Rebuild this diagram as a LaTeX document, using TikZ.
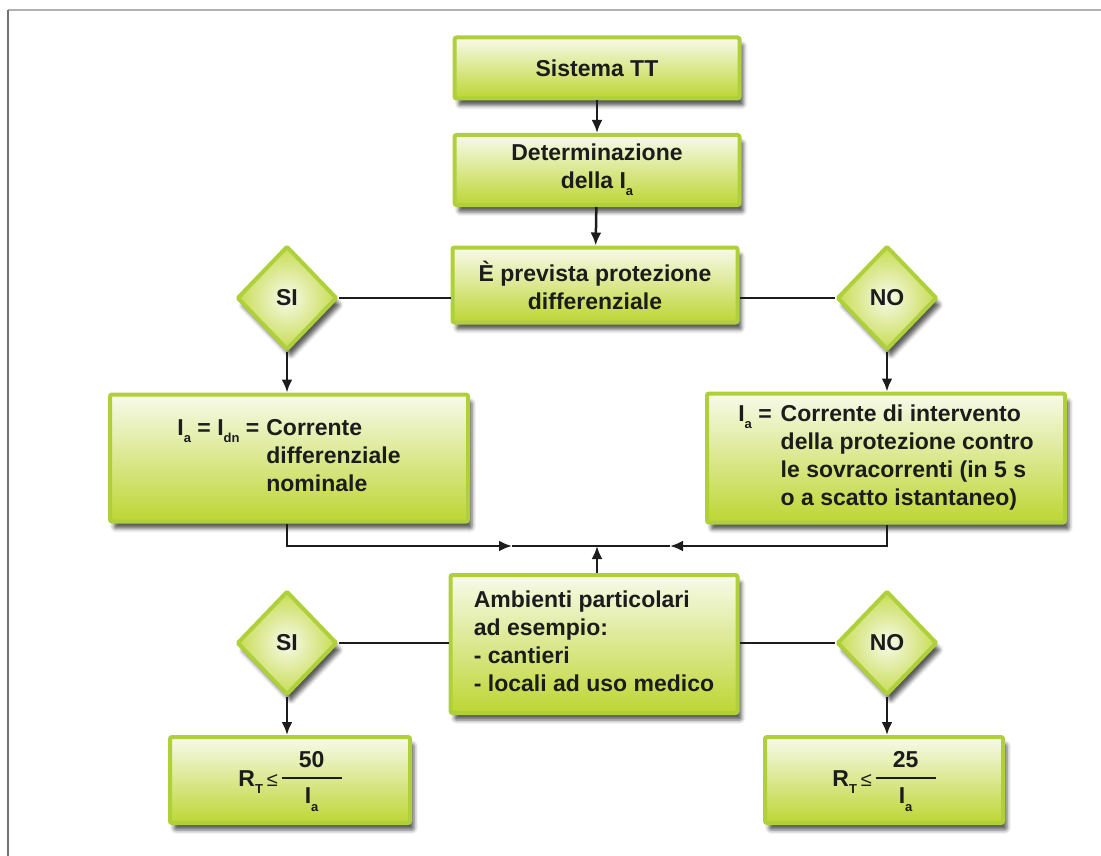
\documentclass[tikz,border=0pt]{standalone}
\usepackage{fontspec}
\setmainfont{Liberation Sans}
\usetikzlibrary{
    arrows.meta,
    shapes.geometric,
    shadows.blur,
    positioning
}

\definecolor{limeedge}{HTML}{AFD03A}
\definecolor{limetop}{HTML}{F8FAEA}
\definecolor{limebot}{HTML}{BDD633}
\definecolor{inkdark}{HTML}{1C1C1C}

% pedice abbassato (I_a, R_T, ...)
\newcommand{\lowidx}[1]{\raisebox{-0.6ex}{\fontsize{13}{13}\selectfont #1}}
% frazione con barra larga
\newcommand{\fracbox}[1]{%
    \setlength{\arrayrulewidth}{2pt}%
    \begin{tabular}{@{}c@{}}\makebox[60pt]{#1}\\[1pt]\hline\rule{0pt}{25pt}I\lowidx{a}\end{tabular}}

\begin{document}
\begin{tikzpicture}[x=1pt, y=-1pt,
    font=\fontsize{23}{28}\selectfont\bfseries, text=inkdark,
    greenbox/.style={draw=limeedge, line width=4pt, rounded corners=2pt,
        top color=limetop, bottom color=limebot, inner sep=0pt,
        blur shadow={shadow xshift=4pt, shadow yshift=-7pt,
            shadow blur radius=4pt, shadow opacity=65}},
    choice/.style={greenbox, diamond, rounded corners=1pt,
        shading=radial, inner color=limetop, outer color=limebot!85,
        minimum width=100pt, minimum height=104pt},
    link/.style={line width=2.5pt, inkdark},
    flow/.style={link, -{Latex[length=13pt, width=11pt]}}
]
    \useasboundingbox (0,0) rectangle (1101,856);
    % cornice
    \draw[gray!60, line width=1.5pt] (8,10) -- (1101,10);
    \draw[gray!90!black, line width=1.5pt] (8,10) -- (8,856);

    % colonna centrale
    \node[greenbox, minimum width=285pt, minimum height=61pt] (sistema) at (597,68) {Sistema TT};
    \node[greenbox, minimum width=285pt, minimum height=70pt, align=center] (determ) at (597,170)
        {Determinazione\\della I\lowidx{a}};
    \node[greenbox, minimum width=285pt, minimum height=75pt, align=center] (prevista) at (595,285)
        {È prevista protezione\\differenziale};

    % primo livello di scelta
    \node[choice] (siA) at (287,298) {SI};
    \node[choice] (noA) at (887,298) {NO};
    \node[greenbox, minimum width=358pt, minimum height=127pt] (boxsi) at (289,458)
        {\begin{tabular}{@{}l@{\hspace{7pt}}l@{}}
            I\lowidx{a} = I\lowidx{dn} = & Corrente\\
            & differenziale\\
            & nominale
        \end{tabular}};
    \node[greenbox, minimum width=358pt, minimum height=129pt] (boxno) at (886,458)
        {\begin{tabular}{@{}l@{\hspace{9pt}}l@{}}
            I\lowidx{a} = & Corrente di intervento\\
            & della protezione contro\\
            & le sovracorrenti (in 5 s\\
            & o a scatto istantaneo)
        \end{tabular}};

    % ambienti particolari
    \node[greenbox, minimum width=287pt, minimum height=138pt] (ambienti) at (594,644)
        {\begin{tabular}{@{}l@{}}
            Ambienti particolari\\
            ad esempio:\\
            - cantieri\\
            - locali ad uso medico
        \end{tabular}};
    \node[choice] (siB) at (287,643) {SI};
    \node[choice] (noB) at (887,643) {NO};
    \node[greenbox, minimum width=240pt, minimum height=86pt] (rtsi) at (290,780)
        {R\lowidx{T}\,{\mdseries\fontsize{20}{20}\selectfont ≤}\,\fracbox{50}};
    \node[greenbox, minimum width=238pt, minimum height=86pt] (rtno) at (884,780)
        {R\lowidx{T}\,{\mdseries\fontsize{20}{20}\selectfont ≤}\,\fracbox{25}};

    % punti di raccordo
    \coordinate (merge) at (597,546);
    \coordinate (mleft) at (512,546);
    \coordinate (mright) at (670,546);

    % collegamenti
    \draw[flow] (sistema) -- (determ);
    \draw[flow] (determ) -- (prevista);
    \draw[link] (siA.east) -- (siA.east -| prevista.west);
    \draw[link] (noA.west) -- (noA.west -| prevista.east);
    \draw[flow] (siA.south) -- (siA.south |- boxsi.north);
    \draw[flow] (noA.south) -- (noA.south |- boxno.north);
    \draw[flow] (boxsi.south -| siA) |- (mleft);
    \draw[link] (mleft) -- (merge);
    \draw[flow] (boxno.south -| noA) |- (mright);
    \draw[link] (mright) -- (merge);
    \draw[flow] (ambienti.north -| merge) -- (merge);
    \draw[link] (siB.east) -- (siB.east -| ambienti.west);
    \draw[link] (noB.west) -- (noB.west -| ambienti.east);
    \draw[flow] (siB.south) -- (siB.south |- rtsi.north);
    \draw[flow] (noB.south) -- (noB.south |- rtno.north);
\end{tikzpicture}
\end{document}
